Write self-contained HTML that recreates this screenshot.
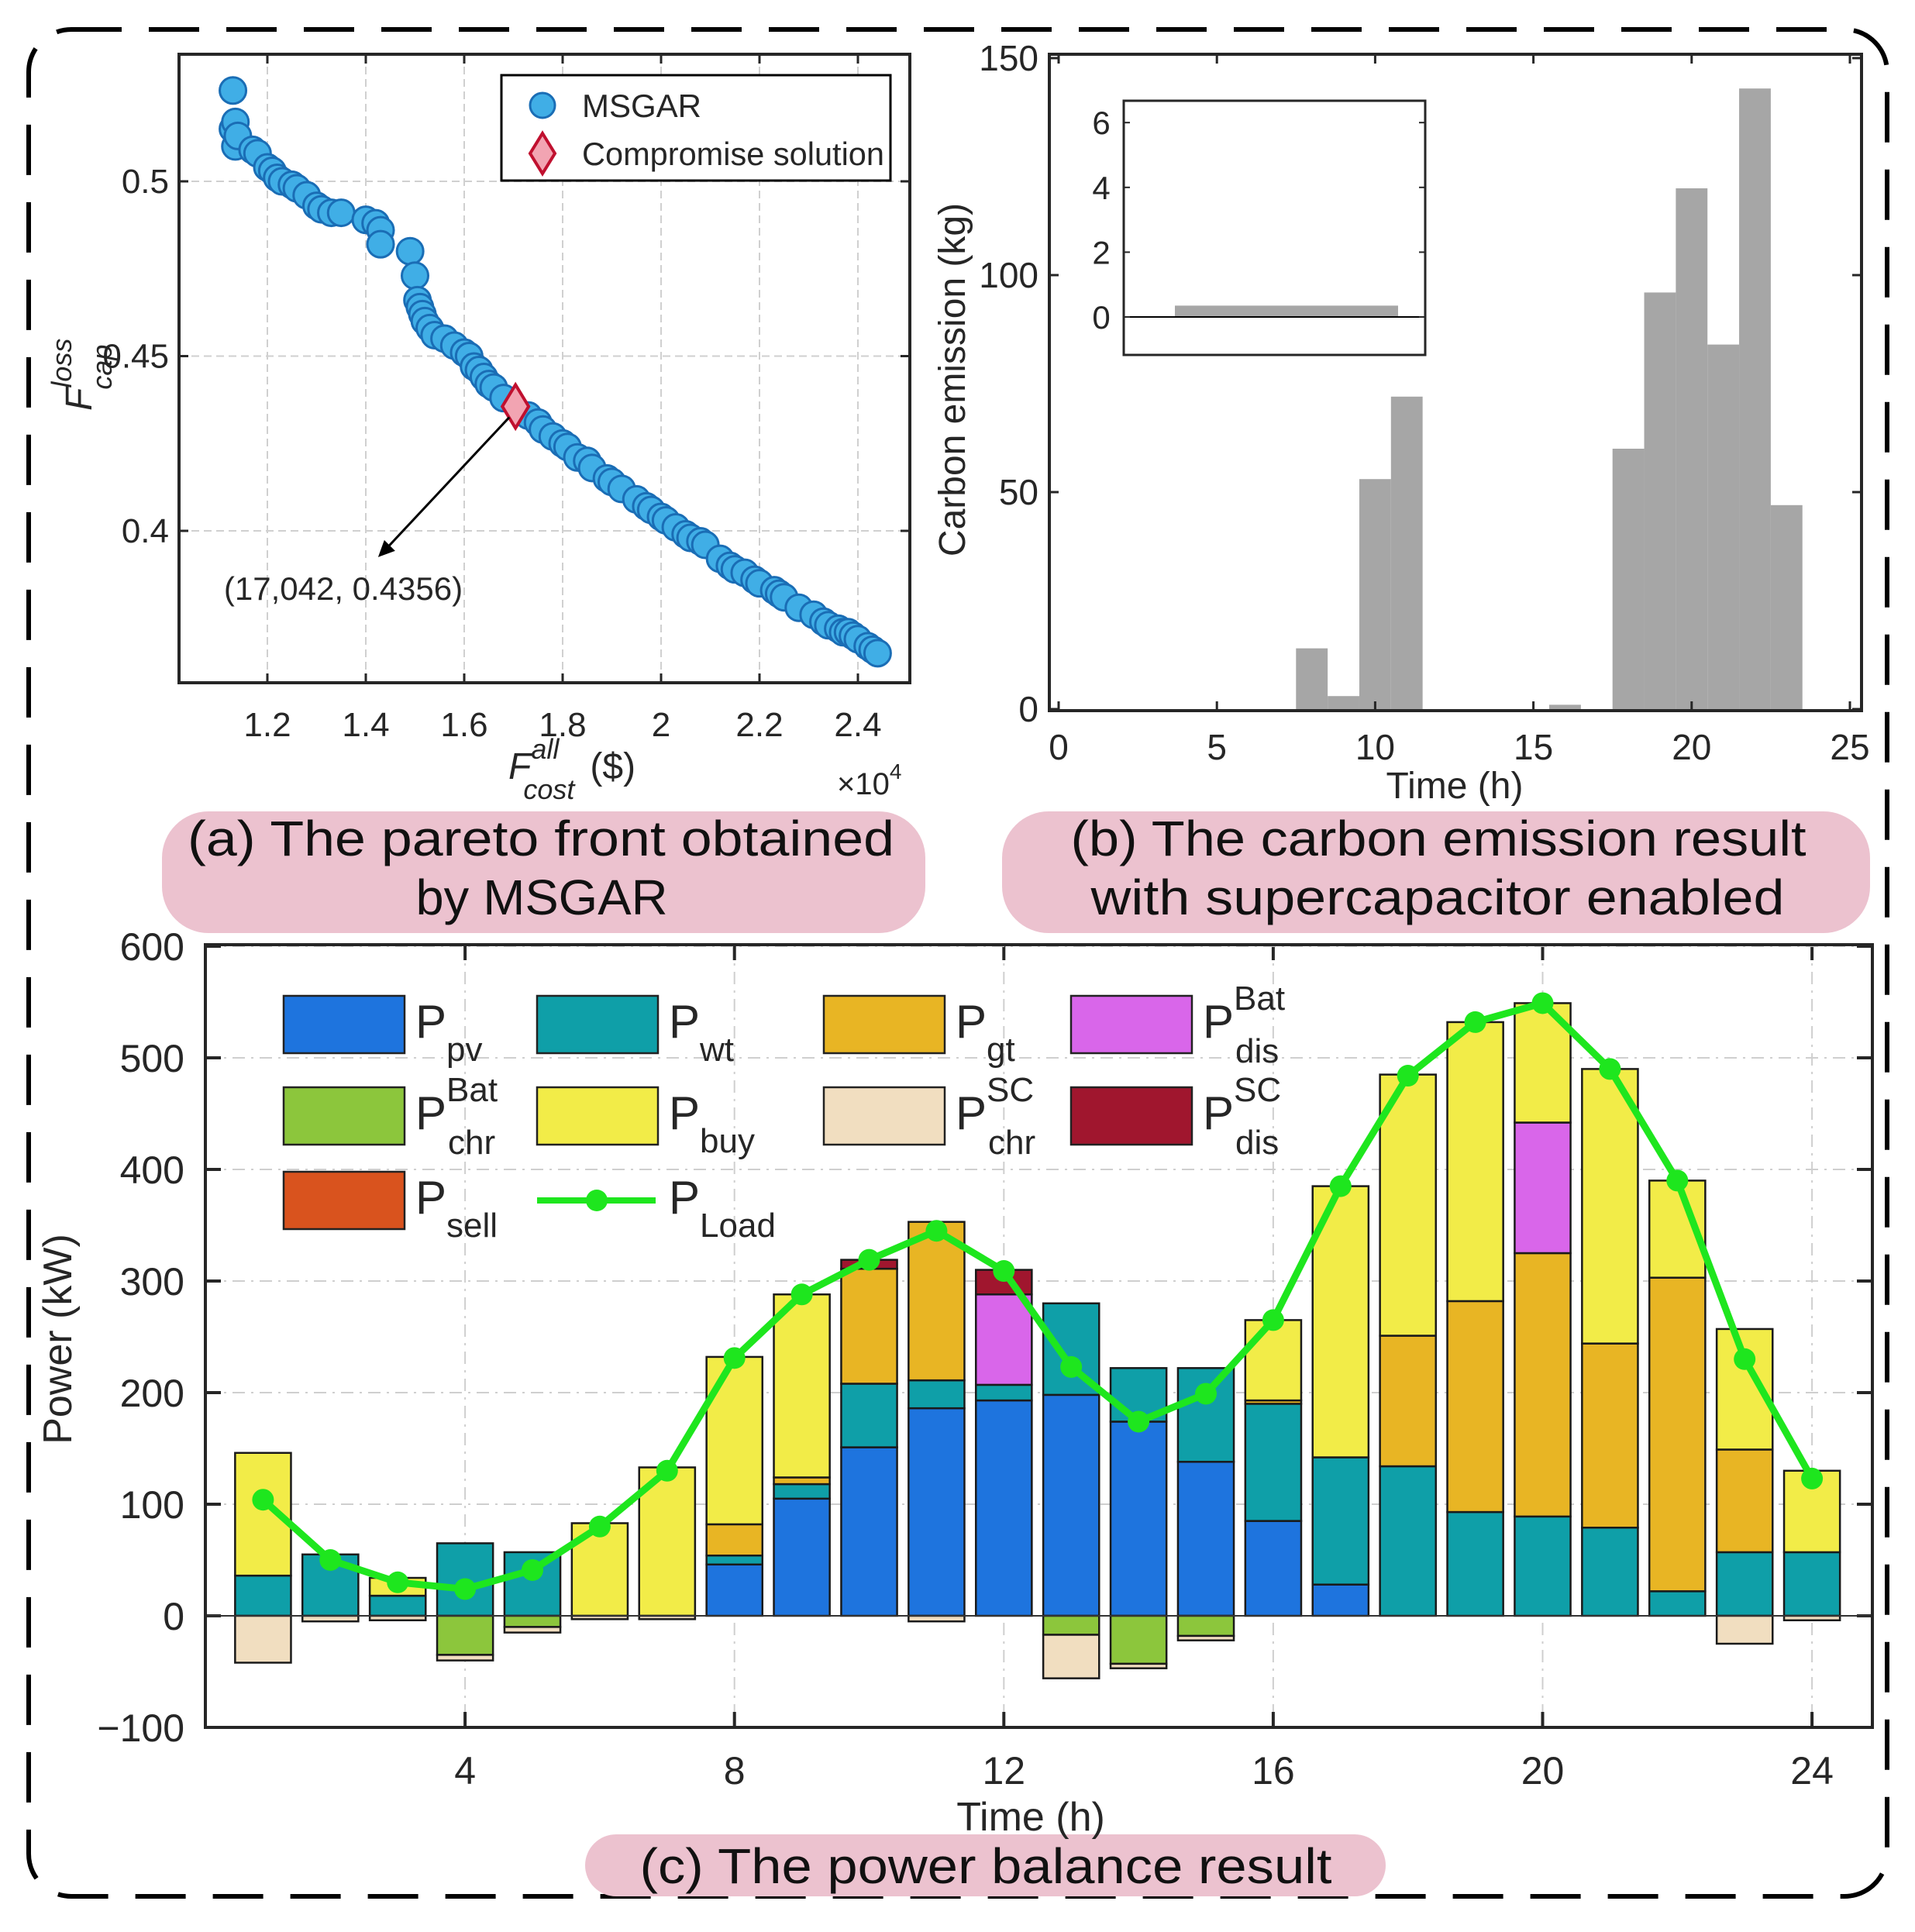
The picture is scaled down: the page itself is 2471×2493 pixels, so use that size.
<!DOCTYPE html>
<html><head><meta charset="utf-8"><style>
html,body{margin:0;padding:0;background:#fff}
svg{display:block}
text{font-family:"Liberation Sans",sans-serif;fill:#262626}
.cap{font-family:"Liberation Sans",sans-serif;fill:#111}
</style></head><body>
<svg id="fig" xmlns="http://www.w3.org/2000/svg" width="2471" height="2493" viewBox="0 0 2471 2493">
<rect x="0" y="0" width="2471" height="2493" fill="#fff"/>
<rect x="37" y="38" width="2398" height="2409" rx="55" fill="none" stroke="#000" stroke-width="6" stroke-dasharray="65,35"/>

<rect x="209" y="1047" width="985" height="157" rx="60" fill="#ecc2cf"/>
<text class="cap" font-size="64" text-anchor="middle" x="698" y="1104" textLength="912" lengthAdjust="spacingAndGlyphs">(a) The pareto front obtained</text>
<text class="cap" font-size="64" text-anchor="middle" x="699" y="1180" textLength="325" lengthAdjust="spacingAndGlyphs">by MSGAR</text>
<rect x="1293" y="1047" width="1120" height="157" rx="60" fill="#ecc2cf"/>
<text class="cap" font-size="64" text-anchor="middle" x="1856" y="1104" textLength="949" lengthAdjust="spacingAndGlyphs">(b) The carbon emission result</text>
<text class="cap" font-size="64" text-anchor="middle" x="1855" y="1180" textLength="895" lengthAdjust="spacingAndGlyphs">with supercapacitor enabled</text>
<rect x="755" y="2367" width="1033" height="80" rx="40" fill="#ecc2cf"/>
<text class="cap" font-size="64" text-anchor="middle" x="1272" y="2430" textLength="893" lengthAdjust="spacingAndGlyphs">(c) The power balance result</text>

<g id="pa"></g><g id="pb"></g><g id="pc"></g>
</svg>
<script>
// ===== Panel (a) data =====
const paretoCost = [1.13,1.13,1.135,1.135,1.14,1.17,1.18,1.2,1.21,1.22,1.23,1.25,1.26,1.28,1.3,1.31,1.33,1.35,1.4,1.42,1.43,1.43,1.49,1.5,1.505,1.51,1.515,1.52,1.53,1.54,1.56,1.58,1.6,1.61,1.62,1.63,1.64,1.65,1.66,1.68,1.73,1.75,1.76,1.78,1.8,1.81,1.83,1.85,1.86,1.89,1.9,1.92,1.95,1.97,1.98,2.0,2.01,2.03,2.05,2.06,2.08,2.09,2.12,2.14,2.15,2.17,2.19,2.2,2.23,2.24,2.25,2.28,2.31,2.33,2.34,2.36,2.37,2.38,2.39,2.4,2.42,2.43,2.44];
const paretoLoss = [0.526,0.515,0.51,0.517,0.513,0.509,0.508,0.504,0.503,0.501,0.5,0.499,0.498,0.496,0.493,0.492,0.491,0.491,0.489,0.488,0.486,0.482,0.48,0.473,0.466,0.464,0.462,0.46,0.458,0.456,0.455,0.453,0.451,0.45,0.447,0.446,0.444,0.442,0.441,0.438,0.433,0.431,0.429,0.427,0.425,0.424,0.421,0.42,0.418,0.415,0.414,0.412,0.409,0.407,0.406,0.404,0.403,0.401,0.399,0.398,0.397,0.396,0.392,0.39,0.389,0.388,0.386,0.385,0.383,0.382,0.381,0.378,0.376,0.374,0.373,0.372,0.371,0.371,0.37,0.369,0.367,0.366,0.365];
const compromise = [1.7042, 0.4356];
const aXTicks = [1.2,1.4,1.6,1.8,2.0,2.2,2.4];
const aXTickLabels = ["1.2","1.4","1.6","1.8","2","2.2","2.4"];
const aYTicks = [0.4,0.45,0.5];
const aYTickLabels = ["0.4","0.45","0.5"];
// ===== Panel (b) data =====
const carbonHours = [8,9,10,11,16,18,19,20,21,22,23];
const carbonValues = [14,3,53,72,1,60,96,120,84,143,47];
const bXTicks = [0,5,10,15,20,25];
const bYTicks = [0,50,100,150];
const insetYTicks = [0,2,4,6];
const insetBarValue = 0.35;
// ===== Panel (c) data =====
const hours = [1,2,3,4,5,6,7,8,9,10,11,12,13,14,15,16,17,18,19,20,21,22,23,24];
const Ppv    = [0,0,0,0,0,0,0,46,105,151,186,193,198,174,138,85,28,0,0,0,0,0,0,0];
const Pwt    = [36,55,18,65,57,0,0,8,13,57,25,14,82,48,84,105,114,134,93,89,79,22,57,57];
const Pgt    = [0,0,0,0,0,0,0,28,6,103,142,0,0,0,0,3,0,117,189,236,165,281,92,0];
const PbatDis= [0,0,0,0,0,0,0,0,0,0,0,81,0,0,0,0,0,0,0,117,0,0,0,0];
const PscDis = [0,0,0,0,0,0,0,0,0,8,0,22,0,0,0,0,0,0,0,0,0,0,0,0];
const Pbuy   = [110,0,16,0,0,83,133,150,164,0,0,0,0,0,0,72,243,234,250,107,246,87,108,73];
const PbatChr= [0,0,0,-35,-10,0,0,0,0,0,0,0,-17,-43,-18,0,0,0,0,0,0,0,0,0];
const PscChr = [-42,-5,-4,-5,-5,-3,-3,0,0,0,-5,0,-39,-4,-4,0,0,0,0,0,0,0,-25,-4];
const Psell  = [0,0,0,0,0,0,0,0,0,0,0,0,0,0,0,0,0,0,0,0,0,0,0,0];
const Pload  = [104,50,30,24,41,80,130,231,288,319,345,309,223,174,199,265,385,484,532,549,490,390,230,123];
const cXTicks = [4,8,12,16,20,24];
const cYTicks = [-100,0,100,200,300,400,500,600];
const cYTickLabels = ["\u2212100","0","100","200","300","400","500","600"];

const NS="http://www.w3.org/2000/svg";
function mk(parent,tag,attrs,txt){const e=document.createElementNS(NS,tag);for(const k in attrs)e.setAttribute(k,attrs[k]);if(txt!==undefined)e.textContent=txt;parent.appendChild(e);return e;}

// ---------- Panel A ----------
(function(){
const g=document.getElementById('pa');
const L=231,R=1174,T=70,B=881;
const xs=v=>345+(v-1.2)*635, ys=v=>234+(0.5-v)*4510;
aXTicks.forEach((t,i)=>{
  const l=mk(g,'line',{x1:xs(t),x2:xs(t),y1:T,y2:B,stroke:'#d0d0d0','stroke-width':2,'stroke-dasharray':'10,6'});
  
  mk(g,'line',{x1:xs(t),x2:xs(t),y1:B,y2:B-12,stroke:'#262626','stroke-width':3});
  mk(g,'line',{x1:xs(t),x2:xs(t),y1:T,y2:T+12,stroke:'#262626','stroke-width':3});
  const tx=mk(g,'text',{x:xs(t),y:950,'font-size':44,'text-anchor':'middle'},aXTickLabels[i]);
  
});
aYTicks.forEach((t,i)=>{
  const l=mk(g,'line',{x1:L,x2:R,y1:ys(t),y2:ys(t),stroke:'#d0d0d0','stroke-width':2,'stroke-dasharray':'10,6'});
  
  mk(g,'line',{x1:L,x2:L+12,y1:ys(t),y2:ys(t),stroke:'#262626','stroke-width':3});
  mk(g,'line',{x1:R,x2:R-12,y1:ys(t),y2:ys(t),stroke:'#262626','stroke-width':3});
  const tx=mk(g,'text',{x:218,y:ys(t)+15,'font-size':44,'text-anchor':'end'},aYTickLabels[i]);
  
});
paretoCost.forEach((c,i)=>{
  const p=mk(g,'circle',{cx:xs(c),cy:ys(paretoLoss[i]),r:17,fill:'#40aee6',stroke:'#1a6db5','stroke-width':3});
  
});
const cx=xs(compromise[0]),cy=ys(compromise[1]);
const d=mk(g,'polygon',{points:`${cx},${cy-28} ${cx+17},${cy} ${cx},${cy+28} ${cx-17},${cy}`,fill:'#f2a4b2',stroke:'#c0102f','stroke-width':4});

const ax=xs(1.425),ay=ys(0.3925);
const ar=mk(g,'line',{x1:cx-8,y1:cy+14,x2:ax+8,y2:ay-8,stroke:'#000','stroke-width':3});

mk(g,'polygon',{points:`${ax},${ay} ${ax+8},${ay-22} ${ax+22},${ay-8}`,fill:'#000'});
const an=mk(g,'text',{x:443,y:774,'font-size':42,'text-anchor':'middle'},'(17,042, 0.4356)');

const bx=mk(g,'rect',{x:L,y:T,width:R-L,height:B-T,fill:'none',stroke:'#262626','stroke-width':4});

const lg=mk(g,'g',{});
mk(lg,'rect',{x:647,y:97,width:502,height:136,fill:'#fff',stroke:'#000','stroke-width':3});
mk(lg,'circle',{cx:700,cy:136,r:16,fill:'#40aee6',stroke:'#1a6db5','stroke-width':3});
const t1=mk(lg,'text',{x:751,y:151,'font-size':42,fill:'#000'},'MSGAR');
mk(lg,'polygon',{points:'700,172 716,198 700,224 684,198',fill:'#f2a4b2',stroke:'#c0102f','stroke-width':4});
const t2=mk(lg,'text',{x:751,y:213,'font-size':42,fill:'#000',textLength:390,lengthAdjust:'spacingAndGlyphs'},'Compromise solution');
const xl=mk(g,'text',{x:656,y:1005,'font-size':48,'font-style':'italic'});

mk(xl,'tspan',{},'F');mk(xl,'tspan',{dy:-26,'font-size':36},'all');mk(xl,'tspan',{dx:-46,dy:52,'font-size':36},'cost');mk(xl,'tspan',{dx:20,dy:-26,'font-style':'normal'},'($)');
const ex=mk(g,'text',{x:1080,y:1025,'font-size':40},'\u00d710');
mk(ex,'tspan',{dy:-20,'font-size':28},'4');
const yl=mk(g,'text',{x:0,y:0,'font-size':48,'font-style':'italic',transform:'translate(118,530) rotate(-90)'});

mk(yl,'tspan',{},'F');mk(yl,'tspan',{dy:-26,'font-size':36},'loss');mk(yl,'tspan',{dx:-66,dy:52,'font-size':36},'cap');
})();

// ---------- Panel B ----------
(function(){
const g=document.getElementById('pb');
const L=1354,R=2402,T=70,B=917;
const xs=v=>1366+v*40.84, ys=v=>915-v*5.6;
carbonHours.forEach((h,i)=>{
  const r=mk(g,'rect',{x:xs(h-0.5),y:ys(carbonValues[i]),width:xs(h+0.5)-xs(h-0.5),height:ys(0)-ys(carbonValues[i]),fill:'#a6a6a6'});
  
});
bXTicks.forEach(t=>{
  mk(g,'line',{x1:xs(t),x2:xs(t),y1:B,y2:B-12,stroke:'#262626','stroke-width':3});
  mk(g,'line',{x1:xs(t),x2:xs(t),y1:T,y2:T+12,stroke:'#262626','stroke-width':3});
  const tx=mk(g,'text',{x:xs(t),y:980,'font-size':46,'text-anchor':'middle'},String(t));
  
});
bYTicks.forEach(t=>{
  mk(g,'line',{x1:L,x2:L+12,y1:ys(t),y2:ys(t),stroke:'#262626','stroke-width':3});
  mk(g,'line',{x1:R,x2:R-12,y1:ys(t),y2:ys(t),stroke:'#262626','stroke-width':3});
  const tx=mk(g,'text',{x:1340,y:ys(t)+16,'font-size':46,'text-anchor':'end'},String(t));
  
});
const bx=mk(g,'rect',{x:L,y:T,width:R-L,height:B-T,fill:'none',stroke:'#262626','stroke-width':4});

const xt=mk(g,'text',{x:1877,y:1030,'font-size':48,'text-anchor':'middle'},'Time (h)');

const yt=mk(g,'text',{x:0,y:0,'font-size':48,'text-anchor':'middle',transform:'translate(1245,490) rotate(-90)'},'Carbon emission (kg)');

const iL=1450,iR=1839,iT=130,iB=458, iys=v=>409-v*41.8;
const ig=mk(g,'g',{});
mk(ig,'rect',{x:iL,y:iT,width:iR-iL,height:iB-iT,fill:'#fff'});
const ib=mk(ig,'rect',{x:1516,y:iys(insetBarValue),width:288,height:iys(0)-iys(insetBarValue),fill:'#a6a6a6'});

mk(ig,'line',{x1:iL,x2:iR,y1:iys(0),y2:iys(0),stroke:'#000','stroke-width':2});
insetYTicks.forEach(t=>{
  mk(ig,'line',{x1:iL,x2:iL+8,y1:iys(t),y2:iys(t),stroke:'#262626','stroke-width':2});
  mk(ig,'line',{x1:iR,x2:iR-8,y1:iys(t),y2:iys(t),stroke:'#262626','stroke-width':2});
  const tx=mk(ig,'text',{x:1421,y:iys(t)+15,'font-size':42,'text-anchor':'middle'},String(t));
  
});
mk(ig,'rect',{x:iL,y:iT,width:iR-iL,height:iB-iT,fill:'none',stroke:'#262626','stroke-width':3});
})();

// ---------- Panel C ----------
(function(){
const g=document.getElementById('pc');
const L=265,R=2416,T=1219,B=2229;
const xs=h=>252.5+h*86.9, ys=v=>2085-v*1.44;
cXTicks.forEach(t=>{
  const l=mk(g,'line',{x1:xs(t),x2:xs(t),y1:T,y2:B,stroke:'#cfcfcf','stroke-width':2,'stroke-dasharray':'16,8,3,8'});
  
  mk(g,'line',{x1:xs(t),x2:xs(t),y1:B,y2:B-20,stroke:'#262626','stroke-width':4});
  mk(g,'line',{x1:xs(t),x2:xs(t),y1:T,y2:T+20,stroke:'#262626','stroke-width':4});
  const tx=mk(g,'text',{x:xs(t),y:2302,'font-size':50,'text-anchor':'middle'},String(t));
  
});
cYTicks.forEach((t,i)=>{
  const l=mk(g,'line',{x1:L,x2:R,y1:ys(t),y2:ys(t),stroke:'#cfcfcf','stroke-width':2,'stroke-dasharray':'16,8,3,8'});
  
  mk(g,'line',{x1:L,x2:L+20,y1:ys(t),y2:ys(t),stroke:'#262626','stroke-width':4});
  mk(g,'line',{x1:R,x2:R-20,y1:ys(t),y2:ys(t),stroke:'#262626','stroke-width':4});
  const tx=mk(g,'text',{x:238,y:ys(t)+18,'font-size':50,'text-anchor':'end'},cYTickLabels[i]);
  
});
const pos=[['pv',Ppv,'#1e74de'],['wt',Pwt,'#0f9fa8'],['gt',Pgt,'#e8b524'],['bat-dis',PbatDis,'#d966ea'],['sc-dis',PscDis,'#a0162e'],['buy',Pbuy,'#f2ec48']];
const neg=[['bat-chr',PbatChr,'#8cc63c'],['sc-chr',PscChr,'#f1dec0'],['sell',Psell,'#d9531e']];
const bw=0.83;
hours.forEach((h,i)=>{
  let acc=0;
  pos.forEach(([n,arr,col])=>{const v=arr[i];if(v<=0)return;
    const r=mk(g,'rect',{x:xs(h-bw/2),y:ys(acc+v),width:bw*86.9,height:v*1.44,fill:col,stroke:'#1a1a1a','stroke-width':2.5});
    acc+=v;});
  let nacc=0;
  neg.forEach(([n,arr,col])=>{const v=arr[i];if(v>=0)return;
    const r=mk(g,'rect',{x:xs(h-bw/2),y:ys(nacc),width:bw*86.9,height:-v*1.44,fill:col,stroke:'#1a1a1a','stroke-width':2.5});
    nacc+=v;});
});
mk(g,'line',{x1:L,x2:R,y1:ys(0),y2:ys(0),stroke:'#333','stroke-width':2});
const pl=mk(g,'polyline',{points:hours.map((h,i)=>xs(h)+','+ys(Pload[i])).join(' '),fill:'none',stroke:'#1ee61e','stroke-width':9,'stroke-linejoin':'round'});

hours.forEach((h,i)=>{const c=mk(g,'circle',{cx:xs(h),cy:ys(Pload[i]),r:14,fill:'#1ee61e'});
  });
const bx=mk(g,'rect',{x:L,y:T,width:R-L,height:B-T,fill:'none',stroke:'#262626','stroke-width':4});

const xt=mk(g,'text',{x:1330,y:2362,'font-size':52,'text-anchor':'middle'},'Time (h)');

const yt=mk(g,'text',{x:0,y:0,'font-size':52,'text-anchor':'middle',transform:'translate(92,1728) rotate(-90)'},'Power (kW)');

const lg=mk(g,'g',{});
const cols=[366,693,1063,1382], rows=[1285,1403,1512];
const items=[['P','pv','',0,0,'#1e74de'],['P','wt','',1,0,'#0f9fa8'],['P','gt','',2,0,'#e8b524'],['P','dis','Bat',3,0,'#d966ea'],
 ['P','chr','Bat',0,1,'#8cc63c'],['P','buy','',1,1,'#f2ec48'],['P','chr','SC',2,1,'#f1dec0'],['P','dis','SC',3,1,'#a0162e'],
 ['P','sell','',0,2,'#d9531e'],['P','Load','',1,2,null]];
items.forEach(([p,sub,sup,c,r,col])=>{
  const x=cols[c],y=rows[r];
  const it=mk(lg,'g',{});
  if(col){mk(it,'rect',{x:x,y:y,width:156,height:74,fill:col,stroke:'#222','stroke-width':2.5});}
  else{mk(it,'line',{x1:x,x2:x+153,y1:y+37,y2:y+37,stroke:'#1ee61e','stroke-width':8});mk(it,'circle',{cx:x+77,cy:y+37,r:14,fill:'#1ee61e'});}
  const t=mk(it,'text',{x:x+170,y:y+54,'font-size':60,fill:'#111'},p);
  if(sup){mk(t,'tspan',{dy:-36,'font-size':44},sup);mk(t,'tspan',{x:x+212,dy:68,'font-size':44},sub);}
  else{mk(t,'tspan',{dy:30,'font-size':44},sub);}
});
})();
</script>
</body></html>
